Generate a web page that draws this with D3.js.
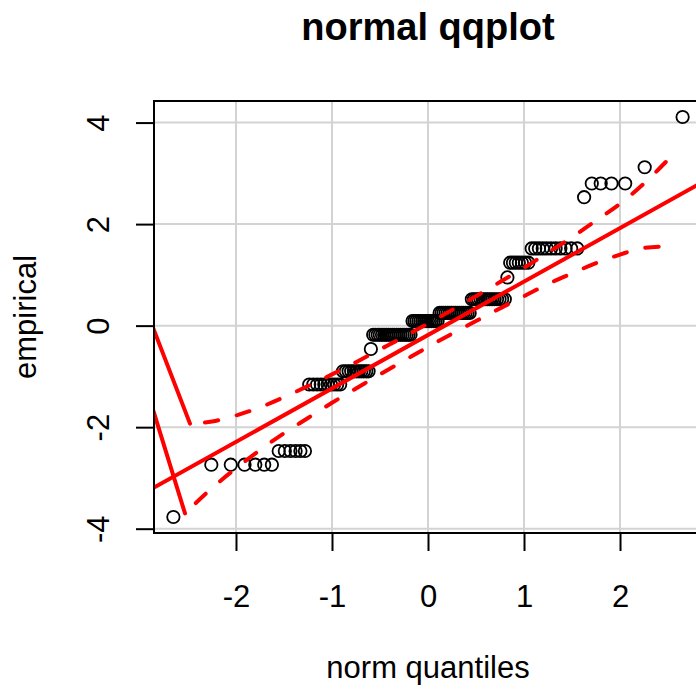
<!DOCTYPE html>
<html>
<head>
<meta charset="utf-8">
<script src="https://cdn.jsdelivr.net/npm/d3@7"></script>
<style>
  html, body { margin: 0; padding: 0; background: #fff; }
  svg { display: block; font-family: "Liberation Sans", Arial, sans-serif; }
</style>
</head>
<body>
<svg id="chart" width="696" height="689"></svg>
<script>
// ---------------- data ----------------
// theoretical normal quantiles of the 125 ordered observations
const theoretical = [
-2.652,-2.257,-2.054,-1.911,-1.799,-1.706,-1.626,-1.555,-1.491,-1.433,
-1.379,-1.329,-1.282,-1.237,-1.195,-1.155,-1.117,-1.080,-1.045,-1.011,
-0.978,-0.946,-0.915,-0.885,-0.856,-0.827,-0.800,-0.772,-0.745,-0.719,
-0.694,-0.668,-0.643,-0.619,-0.595,-0.571,-0.548,-0.524,-0.502,-0.479,
-0.457,-0.434,-0.413,-0.391,-0.369,-0.348,-0.327,-0.306,-0.285,-0.264,
-0.243,-0.222,-0.202,-0.182,-0.161,-0.141,-0.121,-0.100,-0.080,-0.060,
-0.040,-0.020,0,
0.020,0.040,0.060,0.080,0.100,0.121,0.141,0.161,0.182,0.202,
0.222,0.243,0.264,0.285,0.306,0.327,0.348,0.369,0.391,0.413,
0.434,0.457,0.479,0.502,0.524,0.548,0.571,0.595,0.619,0.643,
0.668,0.694,0.719,0.745,0.772,0.800,0.827,0.856,0.885,0.915,
0.946,0.978,1.011,1.045,1.080,1.117,1.155,1.195,1.237,1.282,
1.329,1.379,1.433,1.491,1.555,1.626,1.706,1.799,1.911,2.054,
2.257,2.652];

// ordered empirical values
const empirical = [
-3.77,
-2.74,-2.74,-2.74,-2.74,-2.74,-2.74,
-2.47,-2.47,-2.47,-2.47,-2.47,-2.47,
-1.16,-1.16,-1.16,-1.16,-1.16,-1.16,-1.16,-1.16,-1.16,-1.16,
-0.90,-0.90,-0.90,-0.90,-0.90,-0.90,-0.90,-0.90,-0.90,-0.90,-0.90,
-0.46,
-0.18,-0.18,-0.18,-0.18,-0.18,-0.18,-0.18,-0.18,-0.18,-0.18,
-0.18,-0.18,-0.18,-0.18,-0.18,-0.18,-0.18,-0.18,-0.18,
0.09,0.09,0.09,0.09,0.09,0.09,0.09,0.09,0.09,0.09,0.09,0.09,0.09,0.09,
0.25,0.25,0.25,0.25,0.25,0.25,0.25,0.25,0.25,0.25,0.25,0.25,0.25,0.25,0.25,0.25,
0.52,0.52,0.52,0.52,0.52,0.52,0.52,0.52,0.52,0.52,0.52,0.52,0.52,0.52,0.52,
0.95,
1.24,1.24,1.24,1.24,1.24,1.24,1.24,
1.52,1.52,1.52,1.52,1.52,1.52,1.52,1.52,1.52,1.52,1.52,
2.53,
2.80,2.80,2.80,2.80,
3.12,
4.11];

// reference line (intercept, slope)
const lineCoef = [-0.185, 1.053];

// confidence envelope
const upperZ = [-2.479,-2.25,-2,-1.75,-1.5,-1.25,-1,-0.75,-0.5,-0.25,0,0.25,0.5,0.75,1,1.25,1.5,1.75,2,2.25,2.5];
const upperY = [-1.93,-1.89,-1.77,-1.61,-1.41,-1.19,-0.96,-0.72,-0.47,-0.22,0.04,0.31,0.58,0.86,1.14,1.44,1.74,2.07,2.40,2.80,3.27];
const lowerZ = [-2.531,-2.25,-2,-1.75,-1.5,-1.25,-1,-0.75,-0.5,-0.25,0,0.25,0.5,0.75,1,1.25,1.5,1.75,2,2.25,2.5];
const lowerY = [-3.70,-3.20,-2.81,-2.45,-2.12,-1.82,-1.52,-1.24,-0.96,-0.69,-0.42,-0.16,0.09,0.34,0.58,0.82,1.03,1.23,1.40,1.53,1.56];
// solid tail segments at the left end of the envelope
const upperTailZ = [-2.862, -2.479];
const upperTailY = [-0.05, -1.93];
const lowerTailZ = [-2.862, -2.531];
const lowerTailY = [-1.67, -3.70];

const xTicks = [-2, -1, 0, 1, 2];
const yTicks = [-4, -2, 0, 2, 4];
const xDomain = [-2.854, 2.854];
const yDomain = [-4.085, 4.425];

// ---------------- layout ----------------
const svg = d3.select("#chart");
const L = 154, R = 702, T = 101, B = 533;
const x = d3.scaleLinear().domain(xDomain).range([L, R]);
const y = d3.scaleLinear().domain(yDomain).range([B, T]);
const RED = "#ff0000";

svg.append("defs").append("clipPath").attr("id", "plotclip")
  .append("rect").attr("x", L).attr("y", T).attr("width", R - L).attr("height", B - T);

// grid
const grid = svg.append("g").attr("clip-path", "url(#plotclip)");
grid.selectAll("line.vx").data(xTicks).join("line")
  .attr("x1", d => x(d)).attr("x2", d => x(d)).attr("y1", T).attr("y2", B)
  .attr("stroke", "#d3d3d3").attr("stroke-width", 2);
grid.selectAll("line.hy").data(yTicks).join("line")
  .attr("y1", d => y(d)).attr("y2", d => y(d)).attr("x1", L).attr("x2", R)
  .attr("stroke", "#d3d3d3").attr("stroke-width", 2);

const plot = svg.append("g").attr("clip-path", "url(#plotclip)");

// points
const pts = theoretical.map((t, i) => ({ t, e: empirical[i] }));
plot.selectAll("circle").data(pts).join("circle")
  .attr("cx", d => x(d.t)).attr("cy", d => y(d.e)).attr("r", 6.2)
  .attr("fill", "none").attr("stroke", "#000").attr("stroke-width", 1.8);

// reference line
plot.append("line")
  .attr("x1", x(xDomain[0])).attr("y1", y(lineCoef[0] + lineCoef[1] * xDomain[0]))
  .attr("x2", x(xDomain[1])).attr("y2", y(lineCoef[0] + lineCoef[1] * xDomain[1]))
  .attr("stroke", RED).attr("stroke-width", 4).attr("stroke-linecap", "round");

const line = d3.line().x(d => x(d[0])).y(d => y(d[1])).curve(d3.curveMonotoneX);
const zip = (a, b) => a.map((v, i) => [v, b[i]]);

[zip(upperZ, upperY), zip(lowerZ, lowerY)].forEach(data => {
  plot.append("path").attr("d", line(data))
    .attr("fill", "none").attr("stroke", RED).attr("stroke-width", 4)
    .attr("stroke-linecap", "round").attr("stroke-dasharray", "13.5 19")
    .attr("stroke-dashoffset", 17.5);
});
[zip(upperTailZ, upperTailY), zip(lowerTailZ, lowerTailY)].forEach(data => {
  plot.append("path").attr("d", d3.line().x(d => x(d[0])).y(d => y(d[1]))(data))
    .attr("fill", "none").attr("stroke", RED).attr("stroke-width", 4)
    .attr("stroke-linecap", "round");
});

// box
svg.append("rect").attr("x", L).attr("y", T).attr("width", R - L).attr("height", B - T)
  .attr("fill", "none").attr("stroke", "#000").attr("stroke-width", 2);

// axes
const xAxis = svg.append("g").attr("transform", `translate(0,${B})`)
  .call(d3.axisBottom(x).tickValues(xTicks).tickSize(18).tickFormat(d => String(d)));
xAxis.select(".domain").remove();
xAxis.selectAll("line").attr("stroke", "#000").attr("stroke-width", 2);
xAxis.selectAll("text").attr("y", 74).attr("dy", 0)
  .attr("font-size", 31).attr("fill", "#000").attr("font-family", "Liberation Sans, Arial, sans-serif");

const yAxis = svg.append("g").attr("transform", `translate(${L},0)`)
  .call(d3.axisLeft(y).tickValues(yTicks).tickSize(18).tickFormat(d => String(d)));
yAxis.select(".domain").remove();
yAxis.selectAll("line").attr("stroke", "#000").attr("stroke-width", 2);
yAxis.selectAll("text").attr("x", 0).attr("dy", 0).attr("text-anchor", "middle")
  .attr("transform", "translate(-45,0) rotate(-90)")
  .attr("font-size", 31).attr("fill", "#000").attr("font-family", "Liberation Sans, Arial, sans-serif");

// titles
svg.append("text").attr("x", (L + R) / 2).attr("y", 40).attr("text-anchor", "middle")
  .attr("font-size", 38).attr("font-weight", "bold").text("normal qqplot");
svg.append("text").attr("x", (L + R) / 2).attr("y", 678).attr("text-anchor", "middle")
  .attr("font-size", 31).text("norm quantiles");
svg.append("text").attr("transform", `translate(36,${(T + B) / 2}) rotate(-90)`)
  .attr("text-anchor", "middle").attr("font-size", 31).text("empirical");
</script>
</body>
</html>
